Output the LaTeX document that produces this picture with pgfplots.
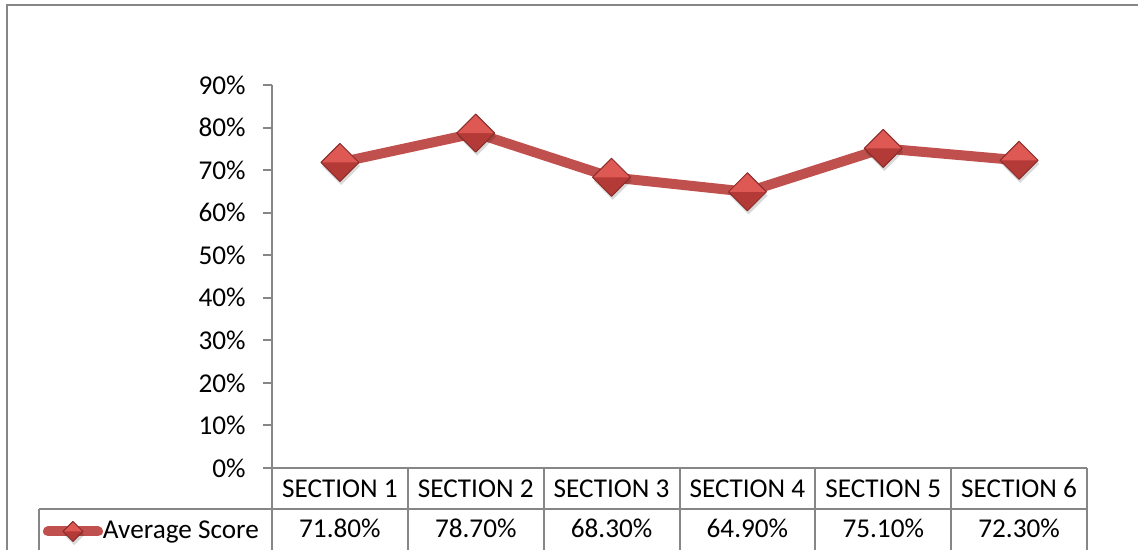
\documentclass[border=0pt]{standalone}
\usepackage{pgfplots}
\pgfplotsset{compat=1.18}
\usepackage{pgfplotstable}
\usepackage{fontspec}
\setmainfont{Carlito}

\definecolor{lineRed}{HTML}{C0504D}
\definecolor{gemTop}{HTML}{DE5854}
\definecolor{gemLow}{HTML}{B43A37}
\definecolor{gemEdge}{HTML}{8A2C2A}
\definecolor{rule}{HTML}{868686}

% diamond outline used by the bevelled marker
\newcommand\gempath{%
  \pgfpathmoveto{\pgfqpoint{-\pgfplotmarksize}{0pt}}%
  \pgfpathlineto{\pgfqpoint{0pt}{\pgfplotmarksize}}%
  \pgfpathlineto{\pgfqpoint{\pgfplotmarksize}{0pt}}%
  \pgfpathlineto{\pgfqpoint{0pt}{-\pgfplotmarksize}}%
  \pgfpathclose}

% bevelled diamond: light upper half, dark lower half, soft shadow
\pgfdeclareplotmark{gem}{%
  \begin{pgfscope}
    \pgftransformshift{\pgfqpoint{0.6pt}{-1.8pt}}%
    \pgfsetfillcolor{black}\pgfsetfillopacity{0.15}%
    \gempath\pgfusepathqfill
  \end{pgfscope}
  \begin{pgfscope}
    \pgfsetfillcolor{gemLow}%
    \gempath\pgfusepathqfill
  \end{pgfscope}
  \begin{pgfscope}
    \pgfsetfillcolor{gemTop}%
    \pgfpathmoveto{\pgfqpoint{-\pgfplotmarksize}{0pt}}%
    \pgfpathlineto{\pgfqpoint{0pt}{\pgfplotmarksize}}%
    \pgfpathlineto{\pgfqpoint{\pgfplotmarksize}{0pt}}%
    \pgfpathclose
    \pgfusepathqfill
  \end{pgfscope}
  \begin{pgfscope}
    \pgfsetstrokecolor{gemEdge}\pgfsetlinewidth{0.5pt}\pgfsetroundjoin
    \gempath\pgfusepathqstroke
  \end{pgfscope}
}

\pgfplotstableread{
x score
1 71.8
2 78.7
3 68.3
4 64.9
5 75.1
6 72.3
}\scores

\newcommand\chartfont{\fontsize{13.6}{16}\selectfont}

\begin{document}
\begin{tikzpicture}
\useasboundingbox (0,0) rectangle (569pt,275pt);
\clip (0,0) rectangle (569pt,275pt);

% outer chart frame
\draw[rule, line width=0.8pt] (3.5pt,-5pt) -- (3.5pt,272.4pt) -- (580pt,272.4pt);

\begin{axis}[
  at={(136pt,41pt)}, anchor=south west,
  scale only axis,
  width=407.5pt, height=191.5pt,
  xmin=0.5, xmax=6.5,
  ymin=0, ymax=90,
  axis lines*=left,
  axis line style={rule, line width=1pt, -},
  xtick={1,...,6},
  xticklabels={SECTION 1,SECTION 2,SECTION 3,SECTION 4,SECTION 5,SECTION 6},
  xtick style={draw=none},
  xticklabel style={anchor=base, inner sep=0pt, yshift=-10.15pt},
  ytick={0,10,...,90},
  yticklabel={\pgfmathprintnumber{\tick}\%},
  ytick style={rule, line width=1pt},
  tick align=outside,
  major tick length=4.5pt,
  yticklabel style={anchor=east, inner sep=0pt, xshift=-8.5pt},
  tick label style={font=\chartfont, text=black},
  /pgf/number format/assume math mode=true,
  clip=false,
  legend style={at={(-0.2810,-0.1700)}, anchor=west, draw=none, fill=none,
    inner sep=0pt, outer sep=0pt, font=\chartfont,
    nodes={inner sep=0pt},
    /tikz/every even column/.append style={column sep=0.5pt}},
  legend image code/.code={%
    \draw[lineRed, line width=5pt, line cap=round] (2.5pt,0pt) -- (27.5pt,0pt);
    \path plot[mark=gem, mark size=5pt] coordinates {(15pt,0pt)};
  },
]
\addplot[lineRed, line width=5pt, line join=round, mark=gem, mark size=9.5pt]
  table[x=x, y=score] {\scores};
\addlegendentry{Average Score}

% values row of the data table
\addplot[draw=none, forget plot, point meta=explicit,
  nodes near coords={\pgfmathprintnumber[fixed,fixed zerofill,precision=2]{\pgfplotspointmeta}\%},
  every node near coord/.append style={font=\chartfont, text=black, inner sep=0pt, anchor=base}]
  table[x=x, y expr=-16.45, meta=score] {\scores};
\end{axis}

% data table grid
\begin{scope}[rule, line width=1pt]
  \draw (19.5pt,20.5pt) -- (543.5pt,20.5pt);
  \draw (19.5pt,20.5pt) -- (19.5pt,-5pt);
  \foreach \k in {0,...,6}
    \draw ({136pt+\k*67.9167pt},41pt) -- ({136pt+\k*67.9167pt},-5pt);
\end{scope}
\end{tikzpicture}
\end{document}
